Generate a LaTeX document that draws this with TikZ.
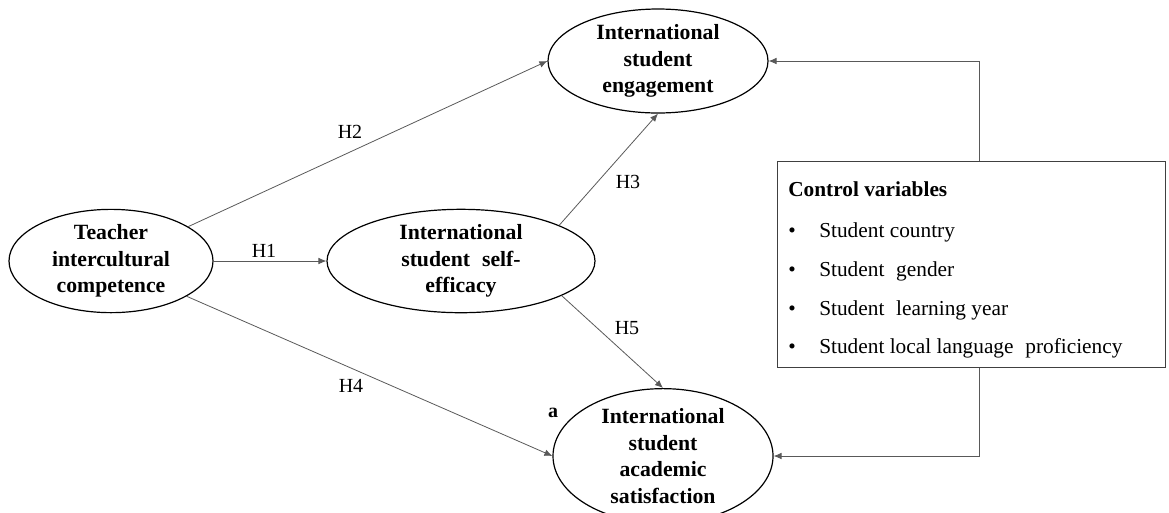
\documentclass[tikz,border=0pt]{standalone}
\usepackage{fontspec}
\setmainfont{Liberation Serif}
\usetikzlibrary{shapes.geometric,arrows.meta}
\begin{document}
\begin{tikzpicture}[x=0.75pt,y=-0.75pt,
  latent/.style={ellipse,draw=black,line width=0.9pt,inner sep=0pt,align=center,
    font=\fontsize{16.3}{20}\selectfont\bfseries},
  path/.style={draw=black!65,line width=0.6pt,-{Latex[length=6pt,width=5pt]}},
  hlab/.style={font=\fontsize{15}{18}\selectfont,inner sep=0pt},
  ctext/.style={anchor=base west,inner sep=0pt,font=\fontsize{16}{18}\selectfont}]
\useasboundingbox (0,0) rectangle (1169,512);

\node[latent,minimum width=153pt,minimum height=72pt] (teacher) at (111,261) {Teacher\\intercultural\\competence};
\node[latent,minimum width=201pt,minimum height=69pt] (eff) at (461,261) {International\\student\hspace{0.3em} self-\\efficacy};
\node[latent,minimum width=165pt,minimum height=78pt] (eng) at (658,61) {International\\student\\engagement};
\node[latent,minimum width=165pt,minimum height=88pt] (sat) at (663,456) {International\\student\\academic\\satisfaction};

\node[draw=black!75,line width=0.9pt,minimum width=291pt,minimum height=154pt,inner sep=0pt] (ctrl) at (971.5,264.5) {};
\node[ctext,font=\fontsize{16}{18}\selectfont\bfseries] (ct) at (788,196) {Control variables};
\node[ctext] (b1) at (788,237) {•};
\node[ctext] (b2) at (788,276) {•};
\node[ctext] (b3) at (788,315) {•};
\node[ctext] (b4) at (788,353) {•};
\node[ctext] (i1) at (819,237) {Student country};
\node[ctext] (i2) at (819,276) {Student\hspace{0.3em} gender};
\node[ctext] (i3) at (819,315) {Student\hspace{0.3em} learning year};
\node[ctext] (i4) at (819,353) {Student local language\hspace{0.3em} proficiency};

\coordinate (cx) at (979,0);

\draw[path] (teacher.east) -- (eff.west);
\draw[path] (teacher.24) -- (eng.west);
\draw[path] (teacher.-25) -- (sat.west);
\draw[path] (eff.20) -- (eng.south);
\draw[path] (eff.-19) -- (sat.north);
\draw[path] (ctrl.north -| cx) |- (eng.east);
\draw[path] (ctrl.south -| cx) |- (sat.east);

\node[hlab] (h1) at (264,251) {H1};
\node[hlab] (h2) at (350,132) {H2};
\node[hlab] (h3) at (628,182) {H3};
\node[hlab] (h4) at (351,386) {H4};
\node[hlab] (h5) at (627,328) {H5};
\node[hlab,font=\fontsize{15}{18}\selectfont\bfseries] (la) at (553,413) {a};
\end{tikzpicture}
\end{document}
